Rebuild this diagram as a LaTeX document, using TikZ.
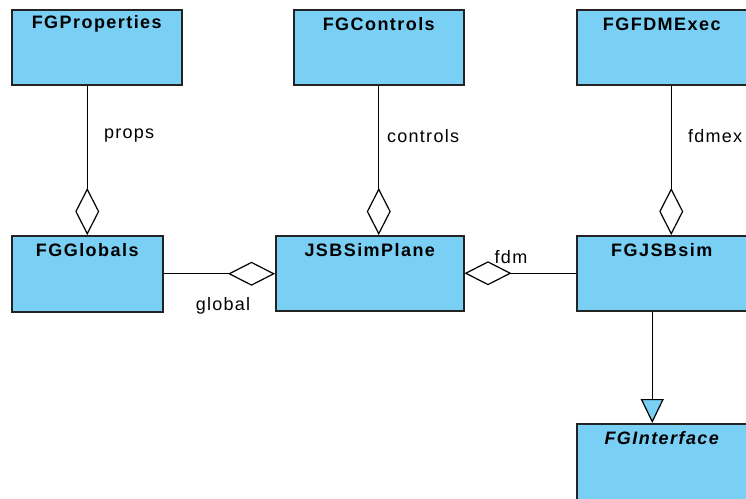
\documentclass[tikz,border=0pt]{standalone}
\usepackage{fontspec}
\setmainfont{Liberation Sans}
\newfontfamily\titlefont[LetterSpace=8]{Liberation Sans}
\newfontfamily\labelfont[LetterSpace=7]{Liberation Sans}
\usetikzlibrary{arrows.meta}
\definecolor{clsfill}{RGB}{122,207,245}
\definecolor{clsline}{RGB}{35,35,35}
\tikzset{
  cls/.style={draw=clsline, fill=clsfill, line width=1.5pt, rectangle, anchor=north west, inner sep=0pt},
  ttl/.style={font=\titlefont\fontsize{18}{20}\selectfont\bfseries, anchor=center, inner sep=0pt},
  lbl/.style={font=\labelfont\fontsize{18}{20}\selectfont, inner sep=0pt},
  conn/.style={draw=black, line width=1.2pt},
  aggr/.style={conn, -{Diamond[open, fill=white, length=47pt, width=24pt, line width=1.2pt]}},
  inher/.style={conn, -{Triangle[open, fill=clsfill, length=24pt, width=23pt, line width=1.2pt]}}
}
\begin{document}
\begin{tikzpicture}[x=1pt,y=-1pt]
\clip (0,0) rectangle (746,498);
\fill[white] (0,0) rectangle (746,498);
% boxes
\node[cls, minimum width=170pt, minimum height=75pt] (p) at (11,9) {};
\node[cls, minimum width=170pt, minimum height=75pt] (c) at (293,9) {};
\node[cls, minimum width=170pt, minimum height=75pt] (f) at (576,9) {};
\node[cls, minimum width=151pt, minimum height=76pt] (g) at (11,235) {};
\node[cls, minimum width=188pt, minimum height=75pt] (j) at (275,235) {};
\node[cls, minimum width=170pt, minimum height=75pt] (s) at (576,235) {};
\node[cls, minimum width=170pt, minimum height=110pt] (i) at (576,423) {};
% titles
\node[ttl] (pt) at ([yshift=-15pt]p.north) {FGProperties};
\node[ttl] (ct) at ([yshift=-15pt]c.north) {FGControls};
\node[ttl] (ft) at ([yshift=-15pt]f.north) {FGFDMExec};
\node[ttl] (gt) at ([yshift=-15pt]g.north) {FGGlobals};
\node[ttl] (jt) at ([yshift=-15pt]j.north) {JSBSimPlane};
\node[ttl] (st) at ([yshift=-15pt]s.north) {FGJSBsim};
\node[ttl, font=\titlefont\fontsize{18}{20}\selectfont\bfseries\itshape] (it) at ([yshift=-15pt]i.north) {FGInterface};
% connectors
\draw[aggr] (p.south -| g.north) -- (g.north);
\draw[aggr] (c.south) -- (c.south |- j.north);
\draw[aggr] ([xshift=9.5pt]f.south) -- ([xshift=9.5pt]s.north);
\draw[aggr] (g.east) -- (g.east -| j.west);
\draw[aggr] (s.west) -- (s.west -| j.east);
\draw[inher] ([xshift=-9.5pt]s.south) -- ([xshift=-9.5pt]s.south |- i.north);
% labels
\node[lbl, anchor=west] (lp) at (104,136) {props};
\node[lbl, anchor=west] (lc) at (387,136) {controls};
\node[lbl, anchor=west] (lf) at (688,136) {fdmex};
\node[lbl] (lg) at (223,306) {global};
\node[lbl] (ld) at (511,257) {fdm};
\end{tikzpicture}
\end{document}
